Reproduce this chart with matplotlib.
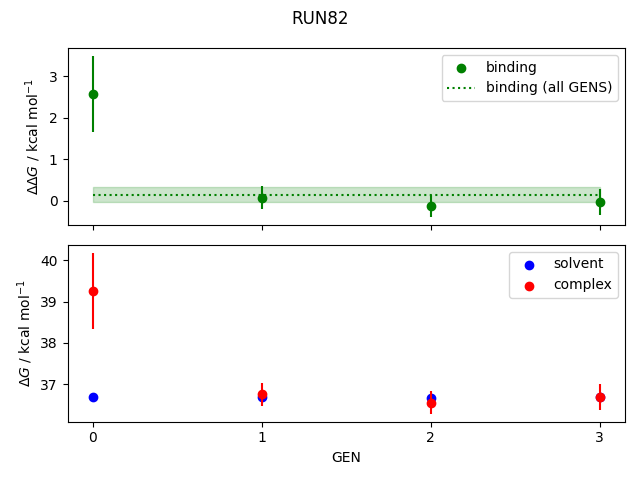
import numpy as np
import matplotlib.pyplot as plt

gens = [0, 1, 2, 3]
binding = [2.57, 0.07, -0.12, -0.03]
binding_err = [0.92, 0.28, 0.27, 0.32]
binding_all = 0.15
binding_all_err = 0.17
solvent = [36.69, 36.69, 36.68, 36.69]
solvent_err = [0.02, 0.02, 0.02, 0.02]
complex_ = [39.26, 36.76, 36.56, 36.69]
complex_err = [0.92, 0.28, 0.27, 0.32]

fig, (ax1, ax2) = plt.subplots(2, 1, sharex=True, figsize=(6.4, 4.8))
fig.suptitle("RUN82")

ax1.scatter(gens, binding, color="green", label="binding")
ax1.errorbar(gens, binding, yerr=binding_err, color="green", linestyle="none")
ax1.hlines(binding_all, gens[0], gens[-1], color="green", linestyle=":",
           label="binding (all GENS)")
ax1.fill_between(gens, binding_all - binding_all_err, binding_all + binding_all_err,
                 color="green", alpha=0.2)
ax1.set_ylabel(r"$\Delta\Delta G$ / kcal mol$^{-1}$")
ax1.legend()

ax2.scatter(gens, solvent, color="blue", label="solvent")
ax2.errorbar(gens, solvent, yerr=solvent_err, color="blue", linestyle="none")
ax2.scatter(gens, complex_, color="red", label="complex")
ax2.errorbar(gens, complex_, yerr=complex_err, color="red", linestyle="none")
ax2.set_ylabel(r"$\Delta G$ / kcal mol$^{-1}$")
ax2.set_xlabel("GEN")
ax2.set_xticks(gens)
ax2.legend()

plt.tight_layout()
plt.savefig("out.png")
